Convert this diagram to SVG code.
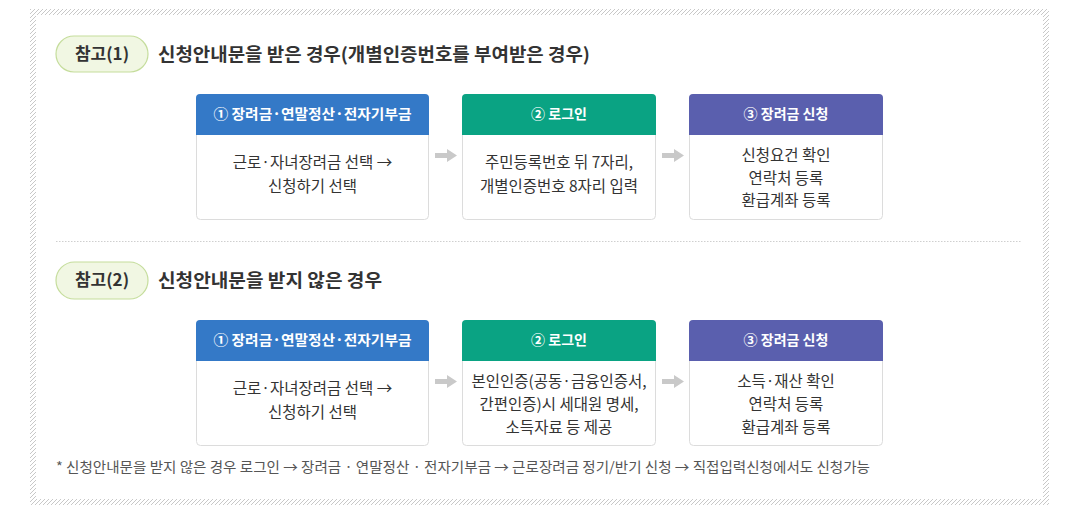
<svg xmlns="http://www.w3.org/2000/svg" width="1068" height="508" viewBox="0 0 1068 508">
<defs>
<pattern id="hatch" patternUnits="userSpaceOnUse" width="4" height="4">
<path d="M0,4 L4,0" stroke="#c8c8c8" stroke-width="1"/>
</pattern>
<style>
text{font-family:"Noto Sans CJK KR","Noto Sans",sans-serif;}
.pill{fill:#f1f7e3;stroke:#c5dd9c;stroke-width:1.2;}
.pt{font-size:17px;font-weight:bold;fill:#333;}
.title{font-size:18px;font-weight:bold;fill:#333;}
.body{fill:#fff;stroke:#dcdcdc;stroke-width:1;}
.ht{font-size:14px;font-weight:bold;fill:#fff;text-anchor:middle;}
.bt{font-size:15.5px;fill:#333;text-anchor:middle;}
.arrow{fill:#c9c9c9;}
.note{font-size:13.5px;fill:#555;}
</style>
</defs>
<rect x="0" y="0" width="1068" height="508" fill="#fff"/>
<rect x="30" y="9" width="1019" height="496" fill="url(#hatch)"/>
<rect x="36" y="15" width="1007" height="484" fill="#fff"/>

<g id="section1-header">
<rect class="pill" x="56" y="36" width="92" height="36" rx="18"/>
<text class="pt" x="102" y="60" text-anchor="middle">참고(1)</text>
<text class="title" x="158" y="61" textLength="432" lengthAdjust="spacingAndGlyphs">신청안내문을 받은 경우(개별인증번호를 부여받은 경우)</text>
</g>

<g id="s1-step1">
<rect class="body" x="196.5" y="94.5" width="232" height="125" rx="4"/>
<path d="M196,135 V98 a4,4 0 0 1 4,-4 H425 a4,4 0 0 1 4,4 V135 Z" fill="#3479c7"/>
<text class="ht" x="312.5" y="119" textLength="198" lengthAdjust="spacingAndGlyphs">① 장려금·연말정산·전자기부금</text>
<text class="bt" x="312.5" y="168">근로·자녀장려금 선택 →</text>
<text class="bt" x="312.5" y="192">신청하기 선택</text>
</g>
<g id="s1-step2">
<rect class="body" x="462.5" y="94.5" width="193" height="125" rx="4"/>
<path d="M462,135 V98 a4,4 0 0 1 4,-4 H652 a4,4 0 0 1 4,4 V135 Z" fill="#0aa383"/>
<text class="ht" x="559" y="119">② 로그인</text>
<text class="bt" x="559" y="168">주민등록번호 뒤 7자리,</text>
<text class="bt" x="559" y="192">개별인증번호 8자리 입력</text>
</g>
<g id="s1-step3">
<rect class="body" x="689.5" y="94.5" width="193" height="125" rx="4"/>
<path d="M689,135 V98 a4,4 0 0 1 4,-4 H879 a4,4 0 0 1 4,4 V135 Z" fill="#5a5fae"/>
<text class="ht" x="786" y="119">③ 장려금 신청</text>
<text class="bt" x="786" y="161">신청요건 확인</text>
<text class="bt" x="786" y="184">연락처 등록</text>
<text class="bt" x="786" y="206">환급계좌 등록</text>
</g>

<line x1="56" y1="241.5" x2="1022" y2="241.5" stroke="#cfcfcf" stroke-width="1" stroke-dasharray="1.5,1.5"/>

<g id="section2-header">
<rect class="pill" x="56" y="262" width="92" height="37" rx="18.5"/>
<text class="pt" x="102" y="286" text-anchor="middle">참고(2)</text>
<text class="title" x="158" y="287" textLength="224" lengthAdjust="spacingAndGlyphs">신청안내문을 받지 않은 경우</text>
</g>

<g id="s2-step1">
<rect class="body" x="196.5" y="320.5" width="232" height="125" rx="4"/>
<path d="M196,361 V324 a4,4 0 0 1 4,-4 H425 a4,4 0 0 1 4,4 V361 Z" fill="#3479c7"/>
<text class="ht" x="312.5" y="345" textLength="198" lengthAdjust="spacingAndGlyphs">① 장려금·연말정산·전자기부금</text>
<text class="bt" x="312.5" y="394">근로·자녀장려금 선택 →</text>
<text class="bt" x="312.5" y="418">신청하기 선택</text>
</g>
<g id="s2-step2">
<rect class="body" x="462.5" y="320.5" width="193" height="125" rx="4"/>
<path d="M462,361 V324 a4,4 0 0 1 4,-4 H652 a4,4 0 0 1 4,4 V361 Z" fill="#0aa383"/>
<text class="ht" x="559" y="345">② 로그인</text>
<text class="bt" x="559" y="387">본인인증(공동·금융인증서,</text>
<text class="bt" x="559" y="410">간편인증)시 세대원 명세,</text>
<text class="bt" x="559" y="433">소득자료 등 제공</text>
</g>
<g id="s2-step3">
<rect class="body" x="689.5" y="320.5" width="193" height="125" rx="4"/>
<path d="M689,361 V324 a4,4 0 0 1 4,-4 H879 a4,4 0 0 1 4,4 V361 Z" fill="#5a5fae"/>
<text class="ht" x="786" y="345">③ 장려금 신청</text>
<text class="bt" x="786" y="387">소득·재산 확인</text>
<text class="bt" x="786" y="410">연락처 등록</text>
<text class="bt" x="786" y="433">환급계좌 등록</text>
</g>

<g id="connectors">
<path class="arrow" d="M435,153 H447 V149 L457,155.5 L447,162 V158 H435 Z"/>
<path class="arrow" d="M662,153 H674 V149 L684,155.5 L674,162 V158 H662 Z"/>
<path class="arrow" d="M435,379 H447 V375 L457,381.5 L447,388 V384 H435 Z"/>
<path class="arrow" d="M662,379 H674 V375 L684,381.5 L674,388 V384 H662 Z"/>
</g>

<text class="note" x="56" y="472" textLength="814" lengthAdjust="spacingAndGlyphs">* 신청안내문을 받지 않은 경우 로그인 → 장려금 · 연말정산 · 전자기부금 → 근로장려금 정기/반기 신청 → 직접입력신청에서도 신청가능</text>
</svg>
